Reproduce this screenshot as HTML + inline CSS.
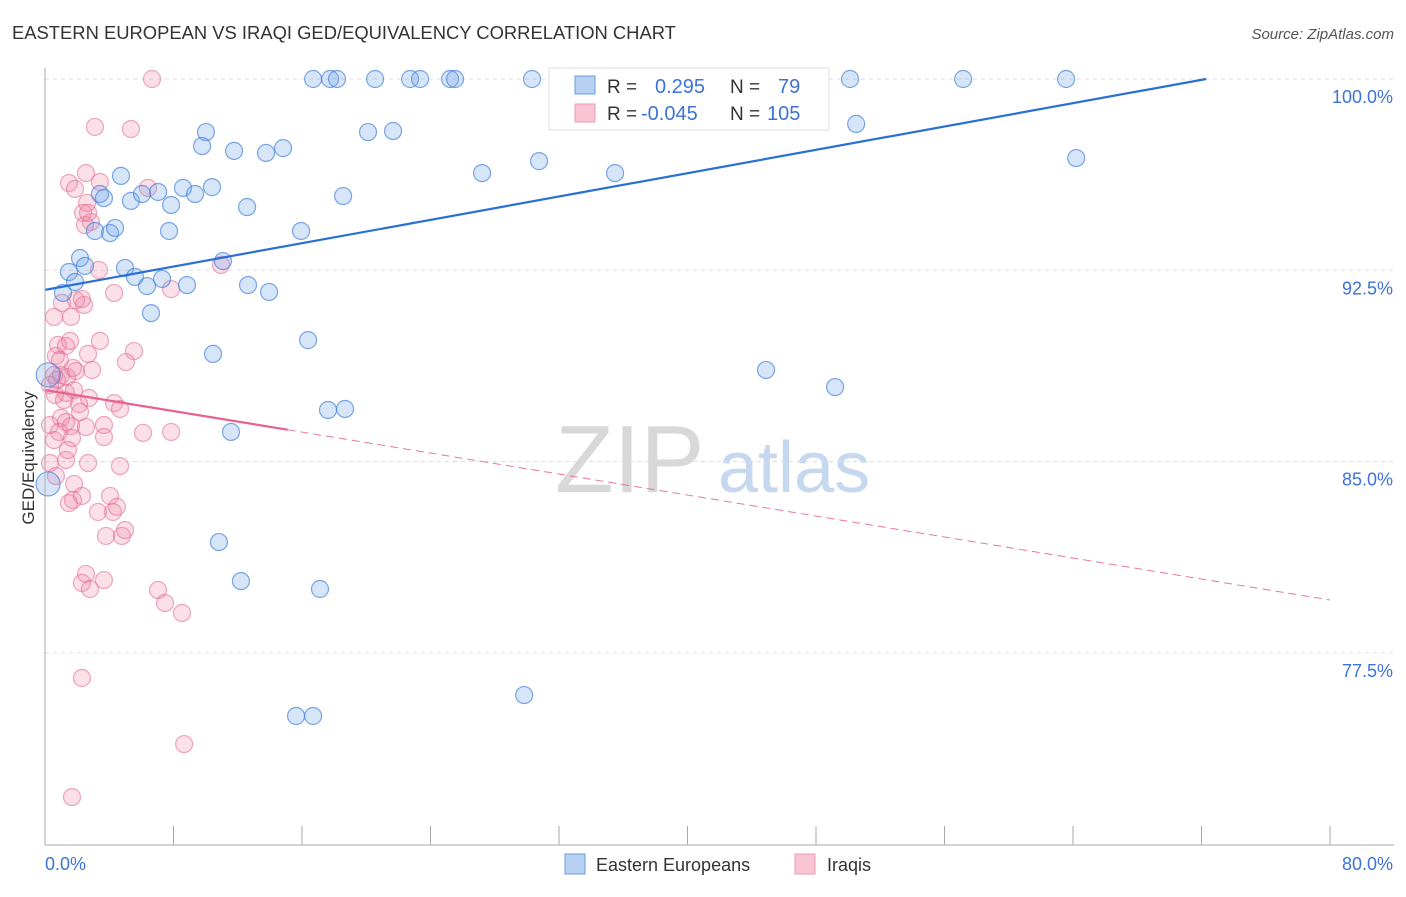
<!DOCTYPE html>
<html><head><meta charset="utf-8">
<style>
body{margin:0;background:#fff;font-family:"Liberation Sans",sans-serif;}
svg text{font-family:"Liberation Sans",sans-serif;}
</style></head>
<body>
<svg id="chart" width="1406" height="892" viewBox="0 0 1406 892" xmlns="http://www.w3.org/2000/svg">
<text x="12" y="39" font-size="18.4" fill="#333">EASTERN EUROPEAN VS IRAQI GED/EQUIVALENCY CORRELATION CHART</text>
<text x="1394" y="39" font-size="15" fill="#555" font-style="italic" text-anchor="end">Source: ZipAtlas.com</text>
<g>
<text x="555" y="492" font-size="96" fill="#d8d8d8" font-family="Liberation Serif,serif">ZIP</text>
<text x="718" y="492" font-size="72" fill="#c5d8ef">atlas</text>
</g>
<g id="grid"></g>
<g id="marks"></g>
<g id="axes"></g>
<g>
<rect x="549" y="68" width="280" height="62" fill="#fff" stroke="#ddd"/>
<rect x="575" y="76" width="20" height="18" fill="#b8d1f3" stroke="#6a9be0"/>
<rect x="575" y="104" width="20" height="18" fill="#f9c4d4" stroke="#ee9ab4"/>
<text x="607" y="93" font-size="19" fill="#333">R =</text>
<text x="655" y="93" font-size="20" fill="#3d73d6">0.295</text>
<text x="730" y="93" font-size="19" fill="#333">N =</text>
<text x="778" y="93" font-size="20" fill="#3d73d6">79</text>
<text x="607" y="120" font-size="19" fill="#333">R =</text>
<text x="641" y="120" font-size="20" fill="#3d73d6">-0.045</text>
<text x="730" y="120" font-size="19" fill="#333">N =</text>
<text x="767" y="120" font-size="20" fill="#3d73d6">105</text>
</g>
<g>
<rect x="565" y="854" width="20" height="20" fill="#b8d1f3" stroke="#6a9be0"/>
<text x="596" y="871" font-size="18" fill="#333">Eastern Europeans</text>
</g>
<g>
<rect x="795" y="854" width="20" height="20" fill="#f9c4d4" stroke="#ee9ab4"/>
<text x="827" y="871" font-size="18" fill="#333">Iraqis</text>
</g>
<text transform="translate(34,458) rotate(-90)" font-size="17" fill="#333" text-anchor="middle">GED/Equivalency</text>
<text x="45" y="870" font-size="18" fill="#3d73d6">0.0%</text>
<text x="1393" y="870" font-size="18" fill="#3d73d6" text-anchor="end">80.0%</text>
</svg>
<script>
const yTicks=[100,92.5,85,77.5];
const yTickLabels=["100.0%","92.5%","85.0%","77.5%"];
const blueX=[16.69,17.75,18.18,20.55,22.73,23.35,25.22,25.53,30.32,33.93,35.8,39.54,46.39,50.12,57.16,63.57,10.02,9.78,11.77,13.76,14.82,20.11,21.67,50.5,64.2,4.73,3.42,3.67,5.35,6.04,7.04,7.85,8.59,9.34,10.4,12.58,18.56,27.21,30.76,35.49,3.11,4.05,4.36,7.72,15.94,2.18,1.49,2.49,4.98,1.87,1.12,5.6,6.35,7.29,8.84,11.08,12.64,13.95,6.6,10.46,16.38,44.89,49.19,17.62,18.68,11.58,0.19,0.2,10.83,12.2,17.12,15.63,16.69,29.83];
const blueY=[100,100,100,100,100,100,100,100,100,100,100,100,100,100,100,100,97.92,97.37,97.18,97.1,97.29,97.92,97.96,98.24,96.9,96.2,95.49,95.33,95.22,95.49,95.57,95.06,95.73,95.49,95.76,94.98,95.41,96.31,96.78,96.31,94.04,93.96,94.16,94.04,94.04,92.98,92.43,92.67,92.59,92.04,91.61,92.24,91.88,92.16,91.92,92.86,91.92,91.65,90.82,89.22,89.76,88.59,87.92,87.02,87.06,86.16,84.12,88.4,81.84,80.31,80.0,75.02,75.02,75.84];
const pinkX=[6.66,3.11,5.35,2.55,1.49,1.87,3.42,2.62,6.41,2.86,2.37,2.49,2.68,3.36,4.3,10.96,7.85,0.56,1.62,2.43,1.93,1.06,2.3,0.68,0.81,1.31,1.56,2.68,3.42,5.54,5.04,0.56,0.75,1.0,1.37,1.93,1.74,0.31,1.31,2.74,4.3,4.67,2.12,0.31,1.0,1.31,1.62,0.87,1.68,3.67,3.67,7.85,6.1,0.31,1.31,2.68,4.67,0.68,1.81,1.74,1.49,2.3,4.05,3.3,4.23,4.48,3.8,4.79,4.98,2.55,2.3,2.8,3.67,7.04,7.47,8.53,2.3,8.66,1.68,0.56,1.43,2.55,2.18,1.18,0.62,1.81,2.93,0.93];
const pinkY=[100,98.12,98.04,96.31,95.92,95.69,95.96,95.14,95.73,94.39,94.75,94.27,94.75,92.51,91.61,92.71,91.76,90.67,90.67,91.14,91.33,91.22,91.37,89.14,89.57,89.53,89.73,89.22,89.73,89.33,88.9,88.39,88.2,88.39,88.31,88.55,88.67,88.0,87.69,87.49,87.29,87.06,87.25,86.43,86.71,86.55,86.39,86.16,85.92,86.43,85.96,86.16,86.12,84.94,85.06,84.94,84.82,84.43,84.12,83.49,83.37,83.65,83.65,83.02,83.02,83.22,82.08,82.08,82.31,80.59,80.24,80.0,80.35,79.96,79.45,79.06,76.51,73.92,71.84,85.84,85.45,86.35,86.94,87.41,87.61,87.8,88.59,88.98];
const blueTrend=[91.73,0.1144];
const pinkTrend=[87.8,-0.1029];
const NS="http://www.w3.org/2000/svg";
const X0=45,X1=1330,Y100=79,PXPER=25.5;
const sx=v=>X0+(v/80)*(X1-X0);
const sy=v=>Y100+(100-v)*PXPER;
function mk(t,a,p){const e=document.createElementNS(NS,t);for(const k in a)e.setAttribute(k,a[k]);p.appendChild(e);return e;}
const grid=document.getElementById('grid'),marks=document.getElementById('marks'),axes=document.getElementById('axes');
yTicks.forEach((t,i)=>{
  const l=mk('line',{x1:X0,x2:1394,y1:sy(t),y2:sy(t),stroke:'#ddd','stroke-dasharray':'4,4'},grid);
  
  
  const tx=mk('text',{x:1393,y:sy(t)+24,'font-size':18,fill:'#3d73d6','text-anchor':'end'},axes);
  tx.textContent=yTickLabels[i];
  
  
});
const ax=mk('line',{x1:X0,x2:X0,y1:68,y2:845,stroke:'#aaa'},axes);


const bx=mk('line',{x1:X0,x2:1394,y1:845,y2:845,stroke:'#aaa'},axes);


for(let i=0;i<=10;i++){const t=mk('line',{x1:sx(i*8),x2:sx(i*8),y1:826,y2:845,stroke:'#aaa'},axes);
  
  }
pinkX.forEach((x,i)=>{
  const c=mk('circle',{cx:sx(x),cy:sy(pinkY[i]),r:8.5,fill:'rgba(240,130,165,0.25)',stroke:'rgba(228,110,150,0.6)','stroke-width':1.2},marks);
  
  
});
blueX.forEach((x,i)=>{
  const r=(x<0.5)?12:8.5;
  const c=mk('circle',{cx:sx(x),cy:sy(blueY[i]),r:r,fill:'rgba(110,160,230,0.28)',stroke:'rgba(70,130,220,0.7)','stroke-width':1.2},marks);
  
  
});
const bEnd=Math.min(80,(100-blueTrend[0])/blueTrend[1]);
const bl=mk('line',{x1:sx(0),y1:sy(blueTrend[0]),x2:sx(bEnd),y2:sy(blueTrend[0]+blueTrend[1]*bEnd),stroke:'#2a6fd6','stroke-width':2.2},marks);


const ps=15.1;
const pl=mk('line',{x1:sx(0),y1:sy(pinkTrend[0]),x2:sx(ps),y2:sy(pinkTrend[0]+pinkTrend[1]*ps),stroke:'#e8608e','stroke-width':2.2},marks);


const pd=mk('line',{x1:sx(ps),y1:sy(pinkTrend[0]+pinkTrend[1]*ps),x2:sx(80),y2:sy(pinkTrend[0]+pinkTrend[1]*80),stroke:'#e8789e','stroke-width':1,'stroke-dasharray':'8,5'},marks);


</script>
</body></html>
